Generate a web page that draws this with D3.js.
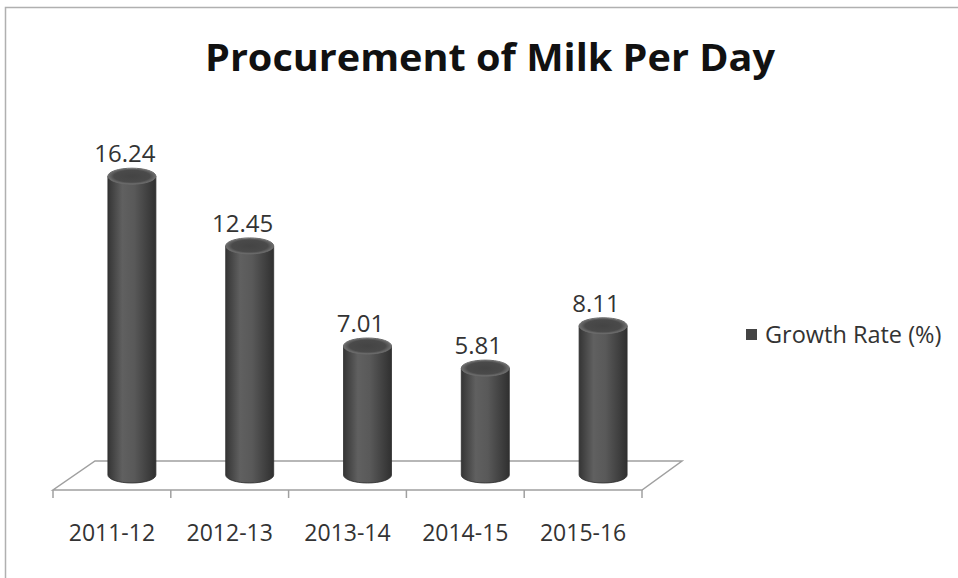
<!DOCTYPE html>
<html><head><meta charset="utf-8">
<script src="https://cdn.jsdelivr.net/npm/d3@7"></script>
<style>body{margin:0;background:#fff}svg{display:block}</style>
</head><body>
<script>
const categories = ["2011-12","2012-13","2013-14","2014-15","2015-16"];
const growthRate = [16.24, 12.45, 7.01, 5.81, 8.11];
const seriesName = "Growth Rate (%)";
const title = "Procurement of Milk Per Day";

const W = 958, H = 578;
const svg = d3.select("body").append("svg").attr("width", W).attr("height", H);
const defs = svg.append("defs");
const grad = defs.append("linearGradient").attr("id","cyl").attr("x1","0").attr("x2","1").attr("y1","0").attr("y2","0");
[[0,"#353535"],[0.3,"#606060"],[0.55,"#595959"],[1,"#303030"]].forEach(([o,c])=>grad.append("stop").attr("offset",o).attr("stop-color",c));
const tgrad = defs.append("radialGradient").attr("id","top");
[[0,"#444"],[0.75,"#4a4a4a"],[1,"#707070"]].forEach(([o,c])=>tgrad.append("stop").attr("offset",o).attr("stop-color",c));

// frame
svg.append("path").attr("d","M5.5,578 L5.5,7.5 L958,7.5").attr("fill","none").attr("stroke","#b0b0b0").attr("stroke-width",1.5);

svg.append("text").attr("x",490).attr("y",71).attr("text-anchor","middle")
  .attr("font-family","'Open Sans', sans-serif").attr("font-weight","bold").attr("font-size",38)
  .attr("textLength",570).attr("lengthAdjust","spacingAndGlyphs")
  .attr("fill","#111").text(title);

const x = d3.scaleBand().domain(categories).range([53, 642]).paddingInner(0).paddingOuter(0);
const y = d3.scaleLinear().domain([0, 18]).range([475, 475 - 18*18.4]);
const depth = 40, depthY = 29;

// floor
const fx0 = 53, fx1 = 642, fy = 490;
svg.append("path").attr("d",`M${fx0},${fy} L${fx1},${fy} L${fx1+depth},${fy-depthY} L${fx0+depth+2},${fy-depthY} Z`)
  .attr("fill","#fff").attr("stroke","#a0a0a0").attr("stroke-width",1.5);
// boundary ticks
const bounds = categories.map(c=>x(c)).concat([x.range()[1]]);
svg.selectAll(".tk").data(bounds).enter().append("line")
  .attr("x1",d=>d).attr("x2",d=>d).attr("y1",fy).attr("y2",fy+8)
  .attr("stroke","#a0a0a0").attr("stroke-width",1.5);

// category labels via axis
const ax = svg.append("g").attr("transform",`translate(0,${fy})`)
  .call(d3.axisBottom(x).tickSize(0).tickPadding(35));
ax.select(".domain").remove();
ax.selectAll("text").attr("font-family","'Open Sans', sans-serif").attr("font-size",23).attr("fill","#333");

// cylinders
const bw = 48, ry = 8;
const cx = c => x(c) + x.bandwidth()/2 + 20;
const g = svg.append("g");
categories.forEach((c,i)=>{
  const v = growthRate[i];
  const xc = cx(c), yb = y(0), yt = y(v);
  g.append("path").attr("d",
    `M${xc-bw/2},${yt} L${xc-bw/2},${yb} A${bw/2},${ry} 0 0 0 ${xc+bw/2},${yb} L${xc+bw/2},${yt} Z`)
    .attr("fill","url(#cyl)").attr("stroke","#2e2e2e").attr("stroke-width",0.8);
  g.append("ellipse").attr("cx",xc).attr("cy",yt).attr("rx",bw/2).attr("ry",ry)
    .attr("fill","url(#top)").attr("stroke","#6a6a6a").attr("stroke-width",1);
  g.append("text").attr("x",xc-7).attr("y",yt-14).attr("text-anchor","middle")
    .attr("font-family","'Open Sans', sans-serif").attr("font-size",24).attr("fill","#333").text(v.toFixed(2));
});

// legend
svg.append("rect").attr("x",746).attr("y",329).attr("width",11).attr("height",11).attr("fill","#444");
svg.append("text").attr("x",765).attr("y",343).attr("font-family","'Open Sans', sans-serif")
  .attr("font-size",23.5).attr("fill","#333").text(seriesName);
</script>
</body></html>
